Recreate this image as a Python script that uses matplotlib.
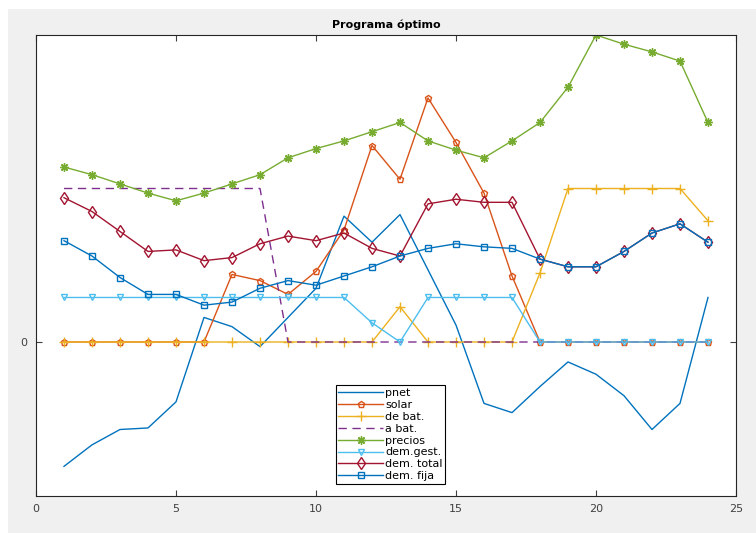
import numpy as np
import matplotlib.pyplot as plt
from matplotlib.patches import Rectangle

horas = np.arange(1, 25)

pnet = [-0.81, -0.67, -0.57, -0.56, -0.39, 0.16, 0.10, -0.03, 0.16, 0.35, 0.82, 0.65,
        0.83, 0.47, 0.11, -0.40, -0.46, -0.29, -0.13, -0.21, -0.35, -0.57, -0.40, 0.29]
solar = [0, 0, 0, 0, 0, 0, 0.44, 0.40, 0.31, 0.46, 0.73, 1.28,
         1.06, 1.59, 1.30, 0.97, 0.43, 0, 0, 0, 0, 0, 0, 0]
de_bat = [0, 0, 0, 0, 0, 0, 0, 0, 0, 0, 0, 0,
          0.23, 0, 0, 0, 0, 0.45, 1.0, 1.0, 1.0, 1.0, 1.0, 0.79]
a_bat = [1.0, 1.0, 1.0, 1.0, 1.0, 1.0, 1.0, 1.0, 0, 0, 0, 0,
         0, 0, 0, 0, 0, 0, 0, 0, 0, 0, 0, 0]
precios = [1.14, 1.09, 1.03, 0.97, 0.92, 0.97, 1.03, 1.09, 1.20, 1.26, 1.31, 1.37,
           1.43, 1.31, 1.25, 1.20, 1.31, 1.43, 1.66, 2.00, 1.94, 1.89, 1.83, 1.43]
dem_gest = [0.29, 0.29, 0.29, 0.29, 0.29, 0.29, 0.29, 0.29, 0.29, 0.29, 0.29, 0.125,
            0, 0.29, 0.29, 0.29, 0.29, 0, 0, 0, 0, 0, 0, 0]
dem_total = [0.94, 0.85, 0.72, 0.59, 0.60, 0.53, 0.55, 0.64, 0.69, 0.66, 0.71, 0.61,
             0.56, 0.90, 0.93, 0.91, 0.91, 0.54, 0.49, 0.49, 0.59, 0.71, 0.77, 0.65]
dem_fija = [0.66, 0.56, 0.42, 0.31, 0.31, 0.24, 0.26, 0.35, 0.40, 0.37, 0.43, 0.49,
            0.56, 0.61, 0.64, 0.62, 0.61, 0.54, 0.49, 0.49, 0.59, 0.71, 0.77, 0.65]

fig = plt.figure(figsize=(7.56, 5.33), dpi=100, facecolor="white")
# grey MATLAB-like figure background with a thin white margin top/left
fig.patches.append(Rectangle((8 / 756, 0), 1, 1 - 9 / 533, transform=fig.transFigure,
                             facecolor="#f0f0f0", edgecolor="none", zorder=-10))
ax = fig.add_axes([36 / 756, 1 - 495.5 / 533, 700 / 756, 460.5 / 533])

lw = 1.0
ms = 5
ax.plot(horas, pnet, color="#0072BD", lw=lw, label="pnet")
ax.plot(horas, solar, color="#D95319", lw=lw, marker="p", ms=ms, mfc="none", label="solar")
ax.plot(horas, de_bat, color="#EDB120", lw=lw, marker="+", ms=7, label="de bat.")
ax.plot(horas, a_bat, color="#7E2F8E", lw=lw, ls=(0, (6, 4)), label="a bat.")
ax.plot(horas, precios, color="#77AC30", lw=lw, marker=(8, 2, 0), ms=6, label="precios")
ax.plot(horas, dem_gest, color="#4DBEEE", lw=lw, marker="v", ms=ms, mfc="none", label="dem.gest.")
ax.plot(horas, dem_total, color="#A2142F", lw=lw, marker="d", ms=6, mfc="none", label="dem. total")
ax.plot(horas, dem_fija, color="#0072BD", lw=lw, marker="s", ms=ms, mfc="none", label="dem. fija")

ax.set_xlim(0, 25)
ax.set_ylim(-1.0, 2.0)
ax.set_xticks([0, 5, 10, 15, 20, 25])
ax.set_yticks([0])
ax.tick_params(direction="in", top=True, right=True, length=4, labelsize=8,
               colors="0.25", pad=6)
for s in ax.spines.values():
    s.set_color("0.15")
    s.set_linewidth(0.8)
ax.set_title("Programa óptimo", fontsize=8, fontweight="bold", pad=5)

leg = ax.legend(loc="lower left", bbox_to_anchor=(0.428, 0.025), fontsize=8,
                fancybox=False, edgecolor="black", framealpha=1,
                handlelength=4.0, labelspacing=0.17, borderpad=0.25,
                handletextpad=0.2, borderaxespad=0)
leg.get_frame().set_linewidth(0.8)

fig.savefig("out.png", dpi=100, facecolor=fig.get_facecolor())
